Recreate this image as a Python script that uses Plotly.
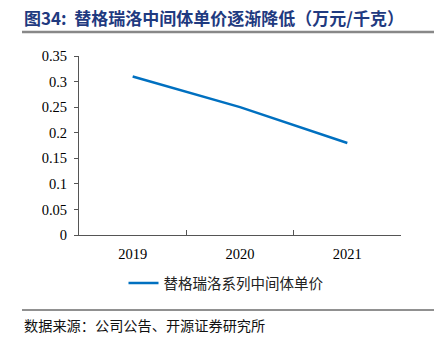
import plotly.graph_objects as go

categories = ["2019", "2020", "2021"]
values = [0.31, 0.25, 0.18]
series_name = "替格瑞洛系列中间体单价"
title_text = "<b>图34:  替格瑞洛中间体单价逐渐降低（万元/千克）</b>"
source_text = "数据来源：公司公告、开源证券研究所"

W, H = 434, 342
L, R, T, B = 79, 33, 56, 107
pw, ph = W - L - R, H - T - B

def px_x(x):
    return (x - L) / pw

def px_y(y):
    return (H - B - y) / ph

fig = go.Figure()
fig.add_trace(go.Scatter(
    x=categories, y=values, mode="lines", name=series_name,
    line=dict(color="#0070C0", width=2.5),
))

fig.update_layout(
    width=W, height=H,
    margin=dict(l=L, r=R, t=T, b=B),
    paper_bgcolor="white", plot_bgcolor="white",
    showlegend=True,
    legend=dict(
        orientation="h", x=px_x(226), xanchor="center", y=px_y(283), yanchor="middle",
        font=dict(family="Noto Sans CJK SC", size=14.5, color="#222"),
        itemwidth=30,
    ),
    xaxis=dict(
        type="category", range=[-0.5, 2.5], tickson="boundaries",
        ticks="inside", ticklen=5, tickcolor="#555",
        showline=True, linecolor="#555", linewidth=1,
        showgrid=False, zeroline=False, ticklabelstandoff=6,
        tickfont=dict(family="Liberation Serif", size=14.5, color="#000"),
    ),
    yaxis=dict(
        range=[0, 0.35], dtick=0.05, tick0=0,
        ticks="outside", ticklen=4, tickcolor="#555",
        showline=True, linecolor="#555", linewidth=1,
        showgrid=False, zeroline=False, ticklabelstandoff=4,
        tickfont=dict(family="Liberation Serif", size=14.5, color="#000"),
    ),
    font=dict(family="Noto Sans CJK SC"),
)

fig.add_annotation(
    text=title_text, xref="paper", yref="paper",
    x=px_x(22), y=px_y(18), xanchor="left", yanchor="middle",
    showarrow=False,
    font=dict(family="Noto Sans CJK SC", size=17, color="#1F3A80"),
)
fig.add_annotation(
    text=source_text, xref="paper", yref="paper",
    x=px_x(22), y=px_y(325), xanchor="left", yanchor="middle",
    showarrow=False,
    font=dict(family="Noto Sans CJK SC", size=14.2, color="#111"),
)
fig.add_shape(type="line", xref="paper", yref="paper",
              x0=px_x(22), x1=px_x(434), y0=px_y(32), y1=px_y(32),
              line=dict(color="#888", width=2.5))
fig.add_shape(type="line", xref="paper", yref="paper",
              x0=px_x(22), x1=px_x(434), y0=px_y(310), y1=px_y(310),
              line=dict(color="#222", width=1))

fig.write_html("out.html")
